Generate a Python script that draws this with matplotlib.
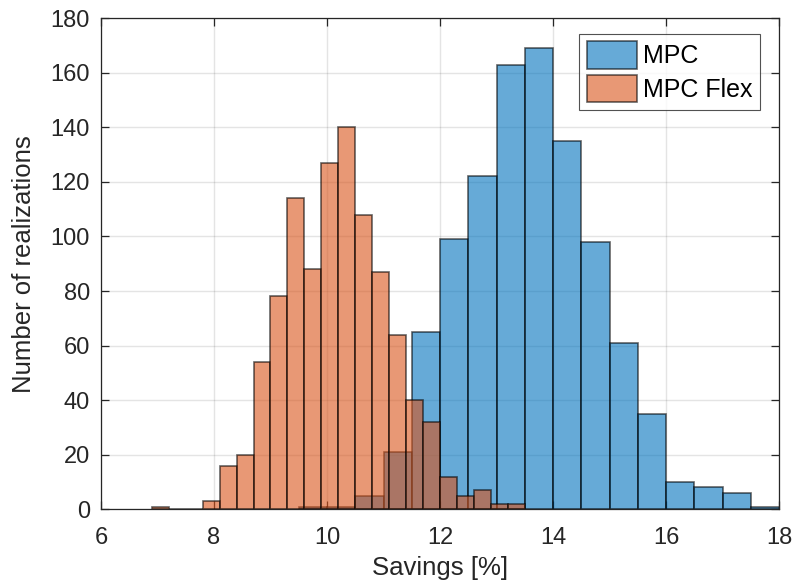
import numpy as np
import matplotlib
matplotlib.use("Agg")
import matplotlib.pyplot as plt

plt.rcParams['font.family'] = ['Liberation Sans', 'DejaVu Sans']

# Histogram bin edges and counts for each controller
mpc_edges = [9.5, 10.0, 10.5, 11.0, 11.5, 12.0, 12.5, 13.0, 13.5, 14.0, 14.5,
             15.0, 15.5, 16.0, 16.5, 17.0, 17.5, 18.0]
mpc_counts = [1, 1, 5, 21, 65, 99, 122, 163, 169, 135, 98, 61, 35, 10, 8, 6, 1]

flex_edges = [6.9, 7.2, 7.5, 7.8, 8.1, 8.4, 8.7, 9.0, 9.3, 9.6, 9.9, 10.2,
              10.5, 10.8, 11.1, 11.4, 11.7, 12.0, 12.3, 12.6, 12.9, 13.2, 13.5]
flex_counts = [1, 0, 0, 3, 16, 20, 54, 78, 114, 88, 127, 140, 108, 87, 64,
               40, 32, 12, 5, 7, 2, 2]

series_labels = ["MPC", "MPC Flex"]
x_ticks = [6, 8, 10, 12, 14, 16, 18]
y_ticks = [0, 20, 40, 60, 80, 100, 120, 140, 160, 180]

blue = (0.0, 0.447, 0.741)
orange = (0.85, 0.325, 0.098)
axis_grey = (0.15, 0.15, 0.15)

fig = plt.figure(figsize=(7.95, 5.85), dpi=100)
ax = fig.add_axes([0.127, 0.1294, 0.853, 0.8396])

for edges, counts, color, label in [(mpc_edges, mpc_counts, blue, series_labels[0]),
                                    (flex_edges, flex_counts, orange, series_labels[1])]:
    e = np.asarray(edges)
    ax.bar(e[:-1], counts, width=np.diff(e), align='edge',
           color=(*color, 0.6), edgecolor=(0, 0, 0, 0.6), linewidth=1.2,
           label=label, zorder=2)

ax.set_xlim(6, 18)
ax.set_ylim(0, 180)
ax.set_xticks(x_ticks)
ax.set_yticks(y_ticks)
ax.grid(True, color=axis_grey, alpha=0.12, linewidth=1.0)
ax.set_axisbelow(True)

for s in ax.spines.values():
    s.set_color(axis_grey)
    s.set_linewidth(0.9)
ax.tick_params(direction='in', top=True, right=True, length=6, width=0.9,
               colors=axis_grey, labelsize=17, labelcolor=axis_grey, pad=8)
ax.tick_params(axis='x', pad=13)

ax.set_xlabel("Savings [%]", fontsize=18.5, color=axis_grey, labelpad=5)
ax.set_ylabel("Number of realizations", fontsize=18.5, color=axis_grey, labelpad=10)

leg = ax.legend(loc='upper right', bbox_to_anchor=(0.972, 0.968), fontsize=18,
                frameon=True, fancybox=False, edgecolor=axis_grey,
                handlelength=2.0, handleheight=1.3, handletextpad=0.25,
                borderpad=0.3, labelspacing=0.25, borderaxespad=0.0)
leg.get_frame().set_linewidth(0.8)

fig.savefig("out.png", dpi=100)
